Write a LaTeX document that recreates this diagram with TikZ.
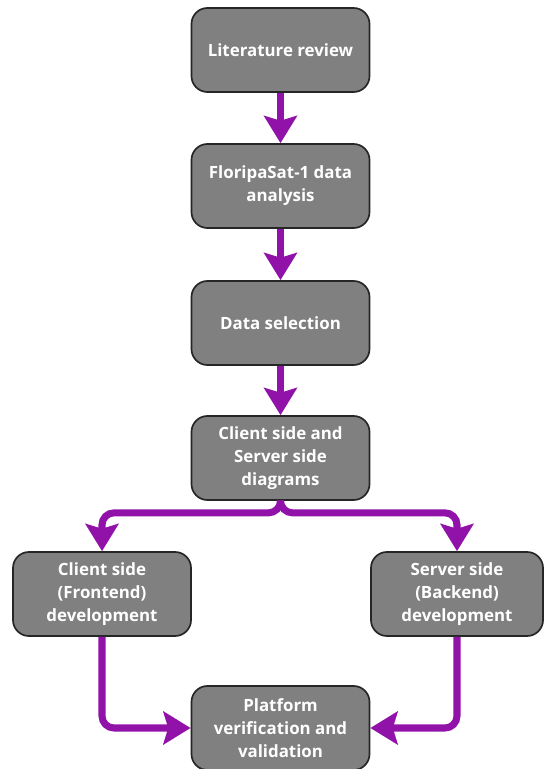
\documentclass[tikz,border=0pt]{standalone}
\usepackage{fontspec}
\setmainfont{Open Sans}
\usetikzlibrary{arrows.meta}

\definecolor{boxgray}{RGB}{128,128,128}
\definecolor{flowpurple}{RGB}{145,18,168}

\begin{document}
\begin{tikzpicture}[x=0.025cm,y=0.025cm,
        box/.style={draw=black!85,line width=1.2pt,fill=boxgray,rounded corners=0.4cm,
            minimum width=4.45cm,minimum height=2.1cm,align=center,text=white,
            font=\fontsize{12}{16.5}\selectfont\bfseries},
        flow/.style={draw=flowpurple,line width=5pt,rounded corners=0.3cm,
            -{Stealth[length=0.68cm,width=0.82cm,inset=0.12cm]}}]
        % Fix the page size
        \useasboundingbox (0,0) rectangle (544,769);

        % The steps of the method
        \node[box] (review) at (280.5,719) {Literature review};
        \node[box] (analysis) at (280.5,583) {FloripaSat-1 data\\analysis};
        \node[box] (selection) at (280.5,446) {Data selection};
        \node[box] (diagrams) at (280.5,311) {Client side and\\Server side\\diagrams};
        \node[box] (frontend) at (102,175) {Client side\\(Frontend)\\development};
        \node[box,minimum width=4.3cm] (backend) at (457,175) {Server side\\(Backend)\\development};
        \node[box] (platform) at (280.5,41) {Platform\\verification and\\validation};

        % Straight flow down the middle
        \draw[flow] (review) -- (analysis);
        \draw[flow] (analysis) -- (selection);
        \draw[flow] (selection) -- (diagrams);

        % Split into the two sides
        \draw[flow] (diagrams.south) -- ++(0,-12) -| (frontend.north);
        \draw[flow] (diagrams.south) -- ++(0,-12) -| (backend.north);

        % Join into the last step
        \draw[flow] (frontend.south) |- (platform.west);
        \draw[flow] (backend.south) |- (platform.east);
    \end{tikzpicture}
\end{document}
